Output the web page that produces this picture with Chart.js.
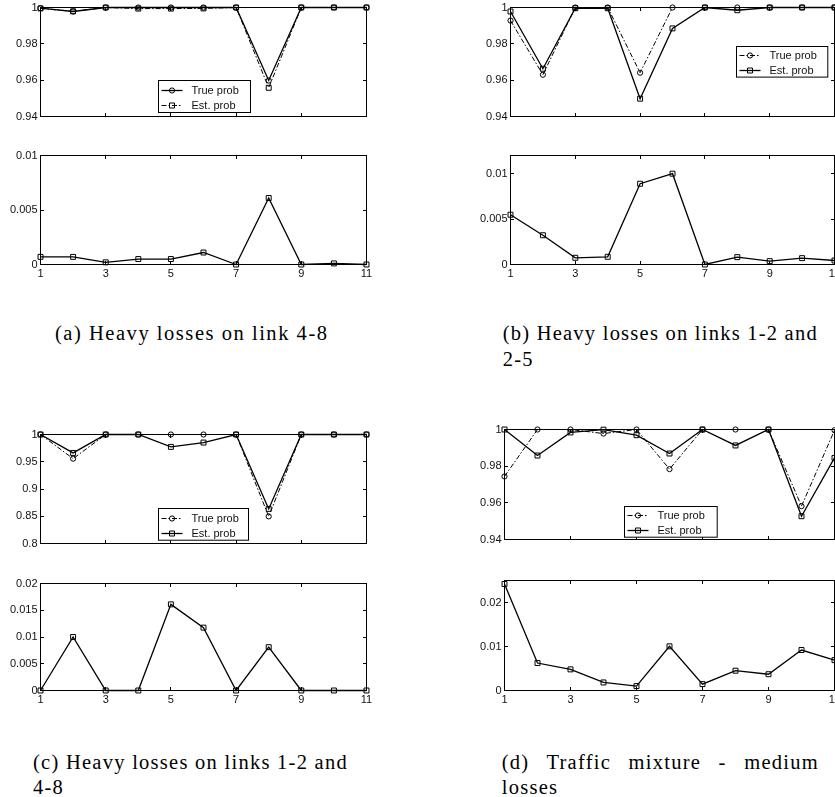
<!DOCTYPE html>
<html><head><meta charset="utf-8">
<script src="https://cdn.jsdelivr.net/npm/chart.js@4/dist/chart.umd.min.js"></script>
<style>
html,body{margin:0;padding:0;background:#fff;overflow:hidden;width:835px;height:797px;position:relative;}
canvas{position:absolute;}
.cap{position:absolute;font-family:"Liberation Serif","Times New Roman",serif;font-size:20.5px;line-height:22px;color:#000;white-space:nowrap;}
</style></head><body>
<script>
// ---------- data ----------
const xValues = [1, 2, 3, 4, 5, 6, 7, 8, 9, 10, 11];
const xTickValues = [1, 3, 5, 7, 9, 11];
const seriesNames = ['True prob', 'Est. prob'];

// (a) Heavy losses on link 4-8
const aTrue = [0.9996, 0.9978, 1, 1, 1, 1, 1, 0.9598, 1, 1, 1];
const aEst  = [0.9995, 0.9979, 1, 0.9994, 0.9994, 0.9995, 1, 0.9558, 1, 1, 1];
const aDiff = [0.0007, 0.0007, 0.0002, 0.0005, 0.0005, 0.0011, 0, 0.0061, 0, 0.0001, 0];
const aTopTicks = [0.94, 0.96, 0.98, 1];
const aBotTicks = [0, 0.005, 0.01];

// (b) Heavy losses on links 1-2 and 2-5
const bTrue = [0.9928, 0.963, 1, 1, 0.9641, 1, 1, 1, 1, 1, 1];
const bEst  = [0.9978, 0.9663, 0.9996, 0.9996, 0.9498, 0.9885, 1, 0.9985, 1, 1, 1];
const bDiff = [0.00548, 0.00322, 0.00074, 0.00085, 0.00889, 0.01, 0, 0.00081, 0.00037, 0.0007, 0.00044];
const bTopTicks = [0.94, 0.96, 0.98, 1];
const bBotTicks = [0, 0.005, 0.01];

// (c) Heavy losses on links 1-2 and 4-8
const cTrue = [1, 0.9557, 1, 1, 1, 1, 1, 0.8497, 1, 1, 1];
const cEst  = [1, 0.9662, 1, 1, 0.9773, 0.9852, 1, 0.8635, 1, 1, 1];
const cDiff = [0, 0.01, 0, 0, 0.0161, 0.01175, 0, 0.0081, 0, 0, 0];
const cTopTicks = [0.8, 0.85, 0.9, 0.95, 1];
const cBotTicks = [0, 0.005, 0.01, 0.015, 0.02];

// (d) Traffic mixture - medium losses
const dTrue = [0.9744, 1, 1, 0.9978, 1, 0.9784, 1, 1, 1, 0.9582, 0.9996];
const dEst  = [1, 0.9858, 0.9984, 0.9999, 0.9969, 0.9869, 1, 0.9913, 1, 0.9527, 0.9845];
const dDiff = [0.0242, 0.00624, 0.0048, 0.00183, 0.001, 0.01004, 0.00145, 0.0045, 0.0037, 0.0092, 0.0069];
const dTopTicks = [0.94, 0.96, 0.98, 1];
const dBotTicks = [0, 0.01, 0.02];

const captions = [
  ['(a) Heavy losses on link 4-8'],
  ['(b) Heavy losses on links 1-2 and', '2-5'],
  ['(c) Heavy losses on links 1-2 and', '4-8'],
  ['(d) Traffic mixture - medium', 'losses']
];

// ---------- layout / style ----------
const TICK_FONT = {family: '"Liberation Sans", Arial, Helvetica, sans-serif', size: 11};
const TEXT_COLOR = '#111';
const DASH = [5, 2, 1.5, 2];

const plots = [
  {L:40.5, R:366.5, T:7.5, B:116.5, min:0.94, max:1, ticks:aTopTicks, xl:false,
   series:[{d:aTrue, m:'circle', dash:false, name:seriesNames[0]}, {d:aEst, m:'rect', dash:true, name:seriesNames[1]}],
   legend:{x:117.5, y:73.2, w:92, h:32}},
  {L:40.5, R:366.5, T:155.5, B:264.5, min:0, max:0.01, ticks:aBotTicks, xl:true,
   series:[{d:aDiff, m:'rect', dash:false}]},
  {L:510.5, R:834.5, T:7.5, B:116.5, min:0.94, max:1, ticks:bTopTicks, xl:false,
   series:[{d:bTrue, m:'circle', dash:true, name:seriesNames[0]}, {d:bEst, m:'rect', dash:false, name:seriesNames[1]}],
   legend:{x:225.5, y:39.2, w:91.3, h:30.6}},
  {L:510.5, R:834.5, T:155.5, B:264.5, min:0, max:0.012, ticks:bBotTicks, xl:true,
   series:[{d:bDiff, m:'rect', dash:false}]},
  {L:40.5, R:366.5, T:434.5, B:543.5, min:0.8, max:1, ticks:cTopTicks, xl:false,
   series:[{d:cTrue, m:'circle', dash:true, name:seriesNames[0]}, {d:cEst, m:'rect', dash:false, name:seriesNames[1]}],
   legend:{x:117.5, y:73.8, w:90, h:31.7}},
  {L:40.5, R:366.5, T:583.5, B:690.5, min:0, max:0.02, ticks:cBotTicks, xl:true,
   series:[{d:cDiff, m:'rect', dash:false}]},
  {L:504.5, R:834.5, T:429.5, B:539.5, min:0.94, max:1, ticks:dTopTicks, xl:false,
   series:[{d:dTrue, m:'circle', dash:true, name:seriesNames[0]}, {d:dEst, m:'rect', dash:false, name:seriesNames[1]}],
   legend:{x:119.5, y:76.5, w:92.7, h:30.7}},
  {L:504.5, R:834.5, T:580.5, B:690.5, min:0, max:0.025, ticks:dBotTicks, xl:true,
   series:[{d:dDiff, m:'rect', dash:false}]}
];

const captionPos = [
  {left:55, cy:333, width:272, justify:false},
  {left:502.7, cy:333, width:314, cy2:359.3, justify:false},
  {left:33, cy:761.7, width:313.7, cy2:786.7, justify:false},
  {left:501.7, cy:761.7, width:315, cy2:786.7, justify:true}
];

function fmt(v) { return String(parseFloat(Number(v).toFixed(6))); }

function drawMarker(ctx, m, x, y) {
  ctx.beginPath();
  if (m === 'circle') { ctx.arc(x, y, 2.6, 0, Math.PI * 2); }
  else { ctx.rect(x - 2.5, y - 2.5, 5, 5); }
  ctx.stroke();
}

function makeBox(p) {
  return {
    id: 'matlabBox',
    afterDraw(chart) {
      const {ctx, chartArea: a, scales} = chart;
      ctx.save();
      ctx.strokeStyle = '#000'; ctx.lineWidth = 1; ctx.setLineDash([]);
      ctx.strokeRect(a.left, a.top, a.right - a.left, a.bottom - a.top);
      const tl = 3.5;
      ctx.beginPath();
      scales.x.ticks.forEach(t => {
        const px = Math.floor(scales.x.getPixelForValue(t.value)) + 0.5;
        ctx.moveTo(px, a.bottom); ctx.lineTo(px, a.bottom - tl);
        ctx.moveTo(px, a.top); ctx.lineTo(px, a.top + tl);
      });
      scales.y.ticks.forEach(t => {
        const py = Math.floor(scales.y.getPixelForValue(t.value)) + 0.5;
        ctx.moveTo(a.left, py); ctx.lineTo(a.left + tl, py);
        ctx.moveTo(a.right, py); ctx.lineTo(a.right - tl, py);
      });
      ctx.stroke();
      const lg = p.legend;
      if (lg) {
        const bx = Math.floor(a.left + lg.x) + 0.5, by = Math.floor(a.top + lg.y) + 0.5;
        ctx.fillStyle = '#fff';
        ctx.fillRect(bx, by, lg.w, lg.h);
        ctx.strokeRect(bx, by, lg.w, lg.h);
        const rows = [by + lg.h * 0.29, by + lg.h * 0.76];
        p.series.forEach((s, i) => {
          const ry = Math.round(rows[i]) + 0.5;
          ctx.lineWidth = s.dash ? 1 : 1.3;
          ctx.setLineDash(s.dash ? DASH : []);
          ctx.beginPath(); ctx.moveTo(bx + 3, ry); ctx.lineTo(bx + 24, ry); ctx.stroke();
          ctx.setLineDash([]); ctx.lineWidth = 1;
          ctx.fillStyle = '#fff';
          drawMarker(ctx, s.m, bx + 13.5, ry);
          ctx.fillStyle = TEXT_COLOR;
          ctx.font = '11px "Liberation Sans", Arial, sans-serif';
          ctx.textBaseline = 'middle'; ctx.textAlign = 'left';
          ctx.fillText(s.name, bx + 33, ry);
        });
      }
      ctx.restore();
    }
  };
}

plots.forEach(p => {
  const yW = 40.5;
  const CL = p.L - yW;
  const CT = Math.floor(p.T) - 10;
  const padTop = p.T - CT;
  const CW = Math.ceil(p.R - CL) + 16;
  const padRight = CW - (p.R - CL);
  const xH = p.xl ? 22 : 0;
  const CH = Math.ceil(p.B - CT) + (p.xl ? 24 : 10);
  const padBottom = CH - (p.B - CT) - xH;
  const cv = document.createElement('canvas');
  cv.width = CW; cv.height = CH;
  cv.style.left = CL + 'px'; cv.style.top = CT + 'px';
  cv.style.width = CW + 'px'; cv.style.height = CH + 'px';
  document.body.appendChild(cv);
  new Chart(cv, {
    type: 'line',
    data: {
      datasets: p.series.map(s => ({
        data: xValues.map((x, i) => ({x: x, y: s.d[i]})),
        borderColor: '#000',
        borderWidth: s.dash ? 1 : 1.3,
        borderDash: s.dash ? DASH : [],
        pointStyle: s.m,
        pointRadius: s.m === 'rect' ? 3.5 : 2.6,
        pointBorderColor: '#000',
        pointBackgroundColor: 'rgba(0,0,0,0)',
        pointBorderWidth: 1,
        tension: 0,
        fill: false,
        clip: false
      }))
    },
    options: {
      responsive: false, animation: false, devicePixelRatio: 1, events: [],
      layout: {padding: {left: 0, top: padTop, right: padRight, bottom: padBottom}},
      plugins: {legend: {display: false}, tooltip: {enabled: false}},
      scales: {
        x: {
          type: 'linear', min: 1, max: 11,
          grid: {display: false, drawTicks: false}, border: {display: false},
          afterBuildTicks: s => { s.ticks = xTickValues.map(v => ({value: v})); },
          ticks: {display: p.xl, padding: 3, font: TICK_FONT, color: TEXT_COLOR, autoSkip: false, maxRotation: 0,
                  callback: v => fmt(v)},
          afterFit: s => { s.height = xH; }
        },
        y: {
          type: 'linear', min: p.min, max: p.max,
          grid: {display: false, drawTicks: false}, border: {display: false},
          afterBuildTicks: s => { s.ticks = p.ticks.map(v => ({value: v})); },
          ticks: {padding: 3, font: TICK_FONT, color: TEXT_COLOR, callback: v => fmt(v)},
          afterFit: s => { s.width = yW; }
        }
      }
    },
    plugins: [makeBox(p)]
  });
});

// ---------- captions ----------
let baseLS = 0.5;
captions.forEach((lines, k) => {
  const pos = captionPos[k];
  const d = document.createElement('div');
  d.className = 'cap'; d.textContent = lines[0];
  d.style.left = pos.left + 'px'; d.style.top = (pos.cy - 11) + 'px';
  document.body.appendChild(d);
  const w0 = d.getBoundingClientRect().width;
  const n = lines[0].length;
  let ls;
  if (pos.justify) {
    ls = baseLS;
    d.style.whiteSpace = 'normal';
    d.style.width = (pos.width + ls + 1) + 'px';
    d.style.textAlign = 'justify';
    d.style.textAlignLast = 'justify';
  } else {
    ls = (pos.width - w0) / (n - 1);
    baseLS = ls;
  }
  d.style.letterSpacing = ls + 'px';
  if (lines[1]) {
    const d2 = document.createElement('div');
    d2.className = 'cap'; d2.textContent = lines[1];
    d2.style.left = pos.left + 'px'; d2.style.top = (pos.cy2 - 11) + 'px';
    d2.style.letterSpacing = ls + 'px';
    document.body.appendChild(d2);
  }
});
</script>
</body></html>
